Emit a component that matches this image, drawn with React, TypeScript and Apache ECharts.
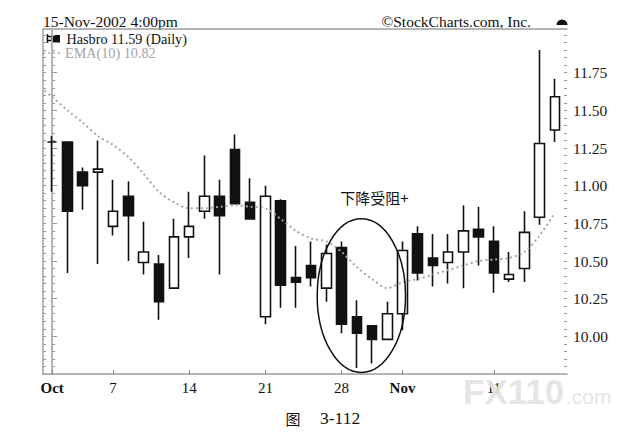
import React, { useEffect, useRef } from "react";
import * as echarts from "echarts";

const titleText = "15-Nov-2002 4:00pm";
const copyrightText = "©StockCharts.com, Inc.";
const seriesName = "Hasbro 11.59 (Daily)";
const emaName = "EMA(10) 10.82";
const annotationText = "下降受阻+";
const captionFig = "图";
const captionNum = "3-112";
const watermarkMain = "FX110";
const watermarkSub = ".com";

// x-axis labels (trading-day index -> label)
const xLabelIndex = [0, 4, 9, 14, 19, 23, 29];
const xLabels = ["Oct", "7", "14", "21", "28", "Nov", "11"];
const yLabels = [10, 10.25, 10.5, 10.75, 11, 11.25, 11.5, 11.75];

// daily OHLC, 1-Oct-2002 .. 15-Nov-2002
const opens = [
  11.29, 11.29, 11.09, 11.09, 10.73, 10.93, 10.49, 10.48, 10.32, 10.66,
  10.83, 10.93, 11.24, 10.89, 10.13, 10.9, 10.39, 10.47, 10.32, 10.59,
  10.13, 10.07, 9.98, 10.15, 10.68, 10.52, 10.49, 10.56, 10.71, 10.63,
  10.38, 10.45, 10.79, 11.37,
];
const closes = [
  11.29, 10.83, 11.0, 11.11, 10.83, 10.8, 10.56, 10.23, 10.66, 10.73,
  10.93, 10.8, 10.88, 10.78, 10.93, 10.34, 10.36, 10.39, 10.55, 10.08,
  10.02, 9.98, 10.15, 10.57, 10.42, 10.47, 10.56, 10.7, 10.66, 10.42,
  10.41, 10.69, 11.28, 11.59,
];
const lows = [
  10.96, 10.42, 10.84, 10.48, 10.67, 10.5, 10.41, 10.11, 10.32, 10.52,
  10.78, 10.41, 10.88, 10.78, 10.08, 10.19, 10.19, 10.33, 10.23, 10.02,
  9.79, 9.82, 9.98, 10.04, 10.37, 10.33, 10.35, 10.32, 10.47, 10.29,
  10.36, 10.36, 10.74, 11.29,
];
const highs = [
  11.33, 11.29, 11.12, 11.3, 11.04, 11.03, 10.76, 10.54, 10.78, 10.96,
  11.2, 11.04, 11.34, 11.05, 11.0, 10.91, 10.6, 10.63, 10.61, 10.63,
  10.24, 10.07, 10.23, 10.63, 10.73, 10.68, 10.68, 10.87, 10.86, 10.73,
  10.56, 10.83, 11.9, 11.71,
];
// EMA(10); first entry is the carried-in value at the left edge of the plot
const emaIndex = [
  -0.5, 0, 1, 2, 3, 4, 5, 6, 7, 8, 9, 10, 11, 12, 13, 14, 15, 16, 17, 18,
  19, 20, 21, 22, 23, 24, 25, 26, 27, 28, 29, 30, 31, 32, 33,
];
const ema10 = [
  11.63, 11.59, 11.5, 11.42, 11.33, 11.27, 11.19, 11.08, 10.96, 10.89, 10.85,
  10.85, 10.86, 10.87, 10.86, 10.85, 10.78, 10.7, 10.65, 10.63, 10.56,
  10.46, 10.38, 10.32, 10.36, 10.38, 10.41, 10.44, 10.47, 10.5, 10.51,
  10.52, 10.56, 10.67, 10.82,
];

const SERIF = "'Liberation Serif', 'Times New Roman', serif";
const CJK = "'Noto Sans CJK SC', sans-serif";
const FRAME = "#9a9a9a";

export default function App() {
  const ref = useRef<HTMLDivElement>(null);

  useEffect(() => {
    document.body.style.margin = "0";
    if (!ref.current) return;
    const chart = echarts.init(ref.current, undefined, { renderer: "svg" });

    const yMin = 9.75;
    const yMax = 12.04;
    const minorTicks: number[] = [];
    for (let k = 196; k <= 240; k++) minorTicks.push(Number((k * 0.05).toFixed(2)));

    const candleData = opens.map((o, i) => [i, o, closes[i], lows[i], highs[i]]);
    const emaData = ema10.map((v, i) => [emaIndex[i], v]);

    const baseY = {
      type: "value" as const,
      min: yMin,
      max: yMax,
      splitLine: { show: false },
    };

    chart.setOption({
      animation: false,
      grid: { left: 43, right: 75, top: 29, bottom: 65 },
      xAxis: [
        {
          type: "value",
          min: -0.6,
          max: 33.8,
          position: "bottom",
          splitLine: { show: false },
          axisLine: { show: true, lineStyle: { color: FRAME, width: 1.5, type: [2, 1] } },
          axisTick: {
            show: true,
            inside: true,
            length: 4,
            customValues: xLabelIndex,
            lineStyle: { color: "#888", width: 1 },
          },
          axisLabel: {
            show: true,
            customValues: xLabelIndex,
            margin: 6,
            fontSize: 15,
            fontFamily: SERIF,
            color: "#111",
            formatter: (v: number) => {
              const k = xLabelIndex.indexOf(Math.round(v));
              const s = k >= 0 ? xLabels[k] : "";
              return s === "Oct" || s === "Nov" ? `{b|${s}}` : s;
            },
            rich: {
              b: { fontWeight: "bold", fontSize: 15, fontFamily: SERIF, color: "#111" },
            },
          },
        },
        {
          type: "value",
          min: -0.6,
          max: 33.8,
          position: "top",
          splitLine: { show: false },
          axisLine: { show: true, lineStyle: { color: FRAME, width: 1.5, type: [2, 1] } },
          axisTick: { show: false },
          axisLabel: { show: false },
        },
      ],
      yAxis: [
        {
          ...baseY,
          position: "right",
          axisLine: { show: true, lineStyle: { color: FRAME, width: 1.5 } },
          axisTick: {
            show: true,
            length: 5,
            customValues: yLabels,
            lineStyle: { color: FRAME, width: 1 },
          },
          axisLabel: {
            show: true,
            customValues: yLabels,
            margin: 6,
            fontSize: 15.5,
            fontFamily: SERIF,
            color: "#1a1a1a",
            formatter: (v: number) => v.toFixed(2),
          },
        },
        {
          ...baseY,
          position: "right",
          axisLine: { show: false },
          axisTick: {
            show: true,
            length: 3,
            customValues: minorTicks,
            lineStyle: { color: FRAME, width: 1 },
          },
          axisLabel: { show: false },
        },
        {
          ...baseY,
          position: "right",
          axisLine: { show: false },
          axisTick: {
            show: true,
            inside: true,
            length: 3,
            customValues: minorTicks,
            lineStyle: { color: FRAME, width: 1 },
          },
          axisLabel: { show: false },
        },
        {
          ...baseY,
          position: "left",
          axisLine: { show: true, lineStyle: { color: FRAME, width: 1.5, type: [2, 1] } },
          axisTick: {
            show: true,
            inside: true,
            length: 3,
            customValues: minorTicks,
            lineStyle: { color: FRAME, width: 1 },
          },
          axisLabel: { show: false },
        },
      ],
      series: [
        {
          type: "candlestick",
          name: seriesName,
          xAxisIndex: 0,
          yAxisIndex: 0,
          barWidth: 10,
          data: candleData,
          itemStyle: {
            color: "#ffffff",
            color0: "#111111",
            borderColor: "#111111",
            borderColor0: "#111111",
            borderColorDoji: "#111111",
            borderWidth: 1.6,
          },
          emphasis: { disabled: true },
        },
        {
          type: "line",
          name: emaName,
          xAxisIndex: 0,
          yAxisIndex: 0,
          data: emaData,
          symbol: "none",
          smooth: 0.3,
          lineStyle: { color: "#a6a6a6", width: 2, type: [2, 3] },
          emphasis: { disabled: true },
        },
      ],
    });

    // annotation ellipse positioned in data space
    const c = chart.convertToPixel({ xAxisIndex: 0, yAxisIndex: 0 }, [20.3, 10.27]) as number[];
    const px1 = chart.convertToPixel({ xAxisIndex: 0, yAxisIndex: 0 }, [23.2, 10.78]) as number[];
    const tp = chart.convertToPixel({ xAxisIndex: 0, yAxisIndex: 0 }, [21.15, 10.92]) as number[];
    const rx = Math.abs(px1[0] - c[0]);
    const ry = Math.abs(c[1] - px1[1]);

    chart.setOption({
      graphic: [
        {
          type: "text",
          x: 43,
          y: 21,
          style: { text: titleText, fontSize: 15.5, fontFamily: SERIF, fill: "#111", align: "left", verticalAlign: "middle" },
        },
        {
          type: "text",
          x: 531,
          y: 21,
          style: { text: copyrightText, fontSize: 15.5, fontFamily: SERIF, fill: "#111", align: "right", verticalAlign: "middle" },
        },
        {
          type: "sector",
          shape: { cx: 562, cy: 25, r: 5.5, r0: 0, startAngle: Math.PI, endAngle: Math.PI * 2 },
          style: { fill: "#111" },
        },
        // legend icons
        {
          type: "line",
          shape: { x1: 47.5, y1: 34, x2: 47.5, y2: 43 },
          style: { stroke: "#111", lineWidth: 1.5 },
        },
        {
          type: "rect",
          shape: { x: 47.5, y: 36.5, width: 4, height: 4 },
          style: { fill: "#fff", stroke: "#111", lineWidth: 1.3 },
        },
        {
          type: "rect",
          shape: { x: 53, y: 35, width: 7, height: 7.5 },
          style: { fill: "#111" },
        },
        {
          type: "text",
          x: 66.5,
          y: 38.5,
          style: { text: seriesName, fontSize: 14.2, fontFamily: SERIF, fill: "#111", align: "left", verticalAlign: "middle" },
        },
        {
          type: "line",
          shape: { x1: 43, y1: 53, x2: 62, y2: 53 },
          style: { stroke: "#aaaaaa", lineWidth: 1.5, lineDash: [2, 3] },
        },
        {
          type: "text",
          x: 65,
          y: 53,
          style: { text: emaName, fontSize: 14.2, fontFamily: SERIF, fill: "#a3a3a3", align: "left", verticalAlign: "middle" },
        },
        // annotation
        {
          type: "ellipse",
          shape: { cx: c[0], cy: c[1], rx, ry },
          style: { fill: "none", stroke: "#111", lineWidth: 1.5 },
          z: 50,
        },
        {
          type: "text",
          x: tp[0],
          y: tp[1],
          style: { text: annotationText, fontSize: 15, fontFamily: CJK, fill: "#111", align: "center", verticalAlign: "middle" },
          z: 50,
        },
        // caption
        {
          type: "text",
          x: 293,
          y: 418,
          style: { text: captionFig, fontSize: 15, fontFamily: CJK, fill: "#111", align: "center", verticalAlign: "middle" },
        },
        {
          type: "text",
          x: 320,
          y: 418,
          style: { text: captionNum, fontSize: 17.5, fontFamily: SERIF, fill: "#111", align: "left", verticalAlign: "middle" },
        },
        // watermark
        {
          type: "text",
          x: 463,
          y: 391,
          z: 100,
          style: { text: watermarkMain, fontSize: 35, fontWeight: "bold", fontFamily: "'Liberation Sans', sans-serif", fill: "#e2e2e2", align: "left", verticalAlign: "middle", opacity: 0.9 },
        },
        {
          type: "text",
          x: 566,
          y: 396,
          z: 100,
          style: { text: watermarkSub, fontSize: 21, fontFamily: "'Liberation Sans', sans-serif", fill: "#e2e2e2", align: "left", verticalAlign: "middle", opacity: 0.9 },
        },
      ],
    });

    return () => chart.dispose();
  }, []);

  return <div ref={ref} style={{ width: 642, height: 439 }} />;
}
